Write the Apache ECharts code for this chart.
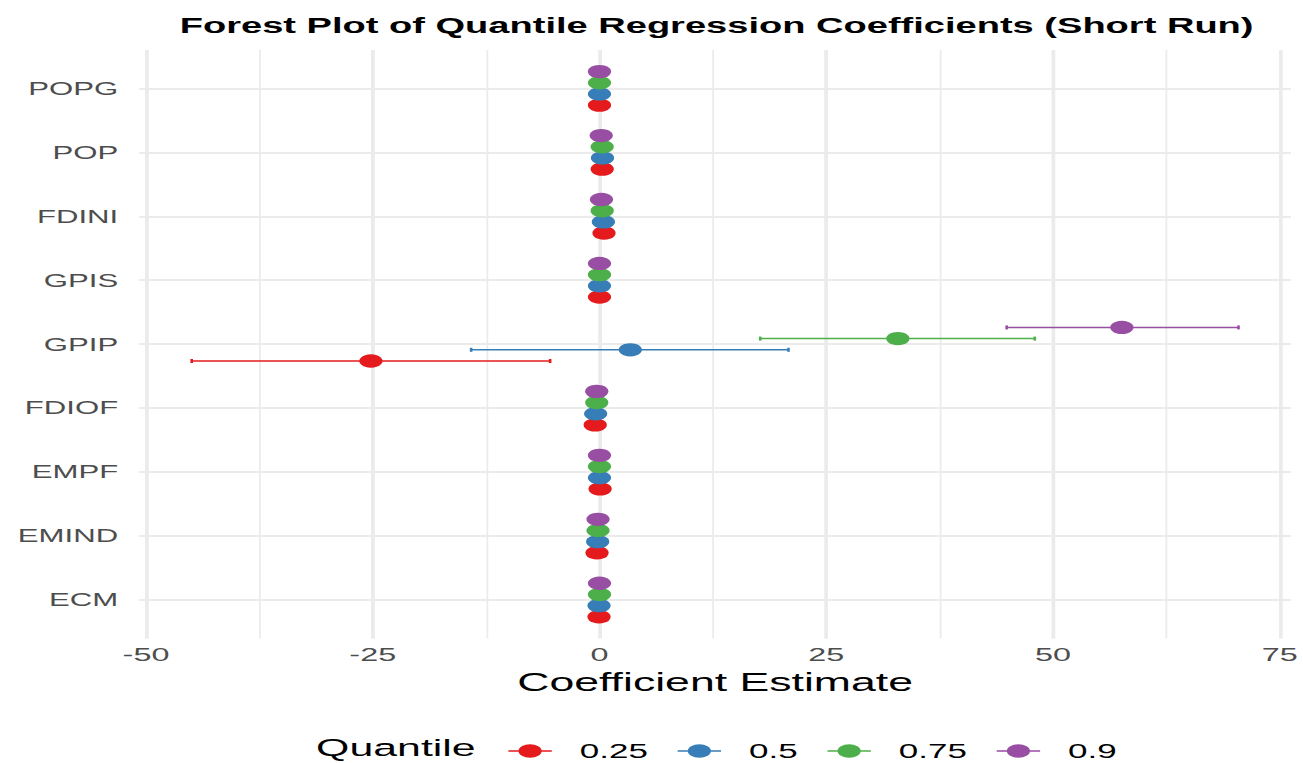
<!DOCTYPE html>
<html>
<head>
<meta charset="utf-8">
<script src="https://cdn.jsdelivr.net/npm/echarts@6/dist/echarts.min.js"></script>
<style>
  html, body { margin: 0; padding: 0; background: #ffffff; overflow: hidden; }
  #wrap { width: 1303px; height: 763px; overflow: hidden; }
  #main { width: 744.571px; height: 763px; transform: scaleX(1.75); transform-origin: 0 0; }
</style>
</head>
<body>
<div id="wrap"><div id="main"></div></div>
<script>
// Categories, bottom to top
const categories = ['ECM', 'EMIND', 'EMPF', 'FDIOF', 'GPIP', 'GPIS', 'FDINI', 'POP', 'POPG'];
const quantiles = ['0.25', '0.5', '0.75', '0.9'];
const colors = ['#E41A1C', '#377EB8', '#4DAF4A', '#984EA3'];
const xTickLabels = [-50, -25, 0, 25, 50, 75];

// Estimates (same category order)
const est_q25 = [-0.05, -0.27, 0.07, -0.47, -25.2, 0.0, 0.5, 0.3, 0.0];
const est_q50 = [-0.05, -0.2, 0.0, -0.42, 3.4, 0.0, 0.43, 0.33, 0.0];
const est_q75 = [0.0, -0.16, 0.0, -0.3, 32.9, 0.0, 0.3, 0.3, 0.0];
const est_q90 = [0.0, -0.16, 0.0, -0.3, 57.6, 0.0, 0.22, 0.19, 0.0];
// Lower / upper bounds
const lo_q25 = [-0.4, -0.7, -0.3, -0.9, -44.96, -0.4, 0.1, -0.1, -0.4];
const hi_q25 = [0.3, 0.15, 0.45, -0.05, -5.44, 0.4, 0.9, 0.7, 0.4];
const lo_q50 = [-0.35, -0.55, -0.3, -0.8, -14.15, -0.3, 0.1, 0.0, -0.3];
const hi_q50 = [0.25, 0.15, 0.3, -0.05, 20.84, 0.3, 0.75, 0.65, 0.3];
const lo_q75 = [-0.35, -0.5, -0.35, -0.7, 17.73, -0.35, -0.05, -0.05, -0.35];
const hi_q75 = [0.35, 0.2, 0.35, 0.1, 48.0, 0.35, 0.65, 0.65, 0.35];
const lo_q90 = [-0.4, -0.55, -0.4, -0.75, 44.9, -0.4, -0.2, -0.2, -0.4];
const hi_q90 = [0.4, 0.25, 0.4, 0.15, 70.46, 0.4, 0.65, 0.6, 0.4];

const estimates = [est_q25, est_q50, est_q75, est_q90];
const lows = [lo_q25, lo_q50, lo_q75, lo_q90];
const highs = [hi_q25, hi_q50, hi_q75, hi_q90];
const dodge = [-0.2625, -0.0875, 0.0875, 0.2625];

const chart = echarts.init(document.getElementById('main'), null, { renderer: 'svg' });

function makeRender(color, off) {
  return function (params, api) {
    const y = api.value(0) + off;
    const p = api.coord([api.value(1), y]);
    const pl = api.coord([api.value(2), y]);
    const ph = api.coord([api.value(3), y]);
    const ls = { stroke: color, lineWidth: 1.5 };
    return {
      type: 'group',
      children: [
        { type: 'line', shape: { x1: pl[0], y1: pl[1], x2: ph[0], y2: ph[1] }, style: ls },
        { type: 'line', shape: { x1: pl[0], y1: pl[1] - 2, x2: pl[0], y2: pl[1] + 2 }, style: ls },
        { type: 'line', shape: { x1: ph[0], y1: ph[1] - 2, x2: ph[0], y2: ph[1] + 2 }, style: ls },
        { type: 'circle', shape: { cx: p[0], cy: p[1], r: 6.65 }, style: { fill: color } }
      ]
    };
  };
}

const series = quantiles.map((q, qi) => ({
  type: 'custom',
  name: q,
  xAxisIndex: 0,
  yAxisIndex: 0,
  clip: false,
  itemStyle: { color: colors[qi] },
  encode: { x: [1, 2, 3], y: 0 },
  renderItem: makeRender(colors[qi], dodge[qi]),
  data: categories.map((c, ci) => [ci, estimates[qi][ci], lows[qi][ci], highs[qi][ci]])
}));

const legendIcon = 'path://M0,6.0 L24.8,6.0 L24.8,7.3 L0,7.3 Z M5.75,6.65 A6.65,6.65 0 1,1 19.05,6.65 A6.65,6.65 0 1,1 5.75,6.65 Z';

const grey = '#EBEBEB';
const tr = 'rgba(0,0,0,0)';
// split-line colour cycles (ticks every 0.25 on x starting at -50.75; every 0.2 on y starting at -0.6)
function cycle(len, at) { const a = []; for (let i = 0; i < len; i++) a.push(i === at ? grey : tr); return a; }
const xMajorColors = cycle(100, 3);
const xMinorColors = cycle(50, 3);
const yColors = cycle(5, 3);

const font = 'Liberation Sans, Arial, sans-serif';
const option = {
  backgroundColor: '#ffffff',
  animation: false,
  title: [
    {
      text: 'Forest Plot of Quantile Regression Coefficients (Short Run)',
      left: 404.5,
      textAlign: 'center',
      top: 10,
      textStyle: { fontFamily: font, fontWeight: 'bold', fontSize: 21.75, color: '#000000' }
    },
    {
      text: 'Quantile',
      left: 180.6,
      top: 735,
      padding: 0,
      textStyle: { fontFamily: font, fontWeight: 'normal', fontSize: 24.5, color: '#000000' }
    }
  ],
  legend: {
    orient: 'horizontal',
    left: 290.5,
    top: 741,
    padding: 0,
    itemWidth: 24.8,
    itemHeight: 13.3,
    itemGap: 17,
    data: quantiles.map((q, qi) => ({ name: q, icon: legendIcon, itemStyle: { color: colors[qi] } })),
    textStyle: { fontFamily: font, fontSize: 20, color: '#000000', padding: [0, 0, 0, 11] }
  },
  grid: { left: 79.54, right: 7.27, top: 50, bottom: 124.6 },
  xAxis: [
    {
      type: 'value',
      min: -50.75,
      max: 76.25,
      interval: 0.25,
      position: 'bottom',
      name: 'Coefficient Estimate',
      nameLocation: 'middle',
      nameGap: 31,
      nameTextStyle: { fontFamily: font, fontSize: 25.5, color: '#000000', verticalAlign: 'top' },
      axisLine: { show: false },
      axisTick: { show: false },
      axisLabel: {
        margin: 7,
        fontFamily: font,
        fontSize: 18.5,
        color: '#4D4D4D',
        formatter: v => {
          const r = Math.round(v);
          return (Math.abs(v - r) < 1e-6 && xTickLabels.indexOf(r) >= 0) ? String(r) : '';
        }
      },
      splitLine: { show: true, lineStyle: { color: xMajorColors, width: 2 } },
      z: 1
    },
    {
      type: 'value',
      min: -50.75,
      max: 76.25,
      interval: 0.25,
      position: 'bottom',
      axisLine: { show: false },
      axisTick: { show: false },
      axisLabel: { show: false },
      splitLine: { show: true, lineStyle: { color: xMinorColors, width: 1 } },
      z: 0
    }
  ],
  yAxis: {
    type: 'value',
    min: -0.6,
    max: 8.6,
    interval: 0.2,
    axisLine: { show: false },
    axisTick: { show: false },
    axisLabel: {
      margin: 12,
      fontFamily: font,
      fontSize: 17.8,
      color: '#4D4D4D',
      formatter: v => {
        const r = Math.round(v);
        return (Math.abs(v - r) < 1e-6 && categories[r] !== undefined) ? categories[r] : '';
      }
    },
    splitLine: { show: true, lineStyle: { color: yColors, width: 2 } }
  },
  series: series
};

chart.setOption(option);
</script>
</body>
</html>
